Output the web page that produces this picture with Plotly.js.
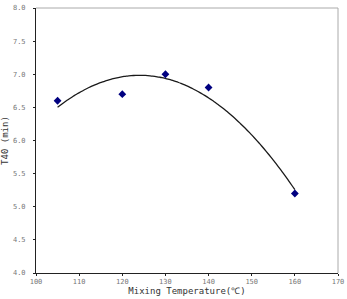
<!DOCTYPE html>
<html><head><meta charset="utf-8">
<script src="https://cdn.plot.ly/plotly-3.0.1.min.js"></script>
<style>html,body{margin:0;padding:0;background:#fff}#c{width:347px;height:299px}</style>
</head><body><div id="c"></div>
<script>
var temps = [105, 120, 130, 140, 160];
var t40 = [6.6, 6.7, 7.0, 6.8, 5.2];
var xTicks = [100, 110, 120, 130, 140, 150, 160, 170];
var yTicks = [4.0, 4.5, 5.0, 5.5, 6.0, 6.5, 7.0, 7.5, 8.0];

// second-order polynomial least-squares trendline computed from the data
function polyFit2(xs, ys) {
  var n = xs.length, s = [0,0,0,0,0], r = [0,0,0];
  for (var i = 0; i < n; i++) {
    var p = 1;
    for (var k = 0; k < 5; k++) { s[k] += p; if (k < 3) r[k] += p * ys[i]; p *= xs[i]; }
  }
  var M = [[s[0],s[1],s[2],r[0]],[s[1],s[2],s[3],r[1]],[s[2],s[3],s[4],r[2]]];
  for (var c = 0; c < 3; c++) {
    for (var j = c+1; j < 3; j++) {
      var f = M[j][c] / M[c][c];
      for (var k2 = c; k2 < 4; k2++) M[j][k2] -= f * M[c][k2];
    }
  }
  var coef = [0,0,0];
  for (var c2 = 2; c2 >= 0; c2--) {
    var v = M[c2][3];
    for (var k3 = c2+1; k3 < 3; k3++) v -= M[c2][k3] * coef[k3];
    coef[c2] = v / M[c2][c2];
  }
  return coef;
}
var cf = polyFit2(temps, t40);
var fx = [], fy = [];
var x0 = Math.min.apply(null, temps), x1 = Math.max.apply(null, temps);
for (var i = 0; i <= 100; i++) {
  var x = x0 + (x1 - x0) * i / 100;
  fx.push(x); fy.push(cf[0] + cf[1]*x + cf[2]*x*x);
}

var data = [
  {x: fx, y: fy, mode: 'lines', line: {color: '#1a1a1a', width: 1.3, shape: 'spline'}, hoverinfo: 'skip'},
  {x: temps, y: t40, mode: 'markers', marker: {symbol: 'diamond', size: 6, color: '#000080'}}
];
var tickFont = {family: 'DejaVu Sans Mono', size: 7, color: '#777'};
var layout = {
  width: 347, height: 299,
  margin: {l: 36, r: 9, t: 8, b: 26, pad: 0},
  showlegend: false,
  paper_bgcolor: '#fff', plot_bgcolor: '#fff',
  xaxis: {
    range: [100, 170], tickvals: xTicks, ticktext: xTicks.map(String),
    showgrid: false, zeroline: false, showline: true, linecolor: '#222', linewidth: 1,
    ticks: 'outside', ticklen: 2, tickcolor: '#222', tickfont: tickFont,
    title: {text: 'Mixing Temperature(℃)', font: {family: 'DejaVu Sans Mono', size: 9, color: '#333'}, standoff: 2}
  },
  yaxis: {
    range: [4, 8], tickvals: yTicks, ticktext: yTicks.map(function(v){return v.toFixed(1);}),
    showgrid: false, zeroline: false, showline: true, linecolor: '#222', linewidth: 1,
    ticks: 'outside', ticklen: 2, tickcolor: '#222', tickfont: tickFont, ticklabelstandoff: 6,
    title: {text: 'T40 (min)', font: {family: 'DejaVu Sans Mono', size: 9, color: '#333'}, standoff: 4}
  },
  shapes: [
    {type: 'line', xref: 'paper', yref: 'paper', x0: 0, x1: 1, y0: 1, y1: 1, line: {color: '#aaa', width: 1}},
    {type: 'line', xref: 'paper', yref: 'paper', x0: 1, x1: 1, y0: 0, y1: 1, line: {color: '#aaa', width: 1}}
  ]
};
Plotly.newPlot('c', data, layout, {staticPlot: true, displayModeBar: false});
</script></body></html>
